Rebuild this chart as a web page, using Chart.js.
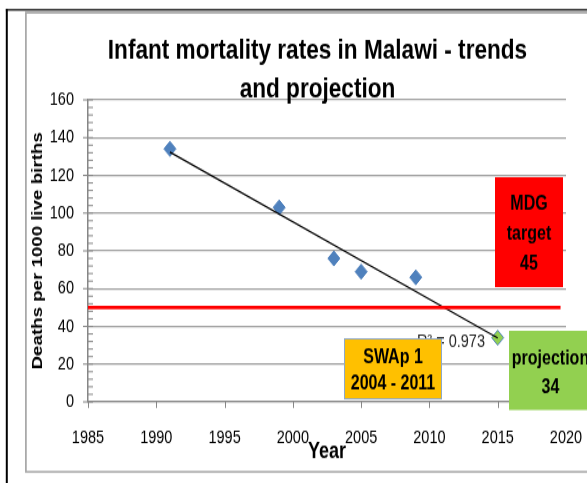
<!DOCTYPE html>
<html><head><meta charset="utf-8">
<script src="https://cdn.jsdelivr.net/npm/chart.js@4.4.0/dist/chart.umd.min.js"></script>
<style>
html,body{margin:0;padding:0;background:#fff;overflow:hidden;width:587px;height:483px}
#wrap{width:587px;height:387px;transform:scaleY(1.24806);transform-origin:0 0}
canvas{display:block}
</style>
</head><body>
<div id="wrap"><canvas id="c" width="587" height="387"></canvas></div>
<script>
// ---- data ----
const titleLines = ['Infant mortality rates in Malawi - trends', 'and projection'];
const xTitle = 'Year';
const yTitle = 'Deaths per 1000 live births';
const years = [1991, 1999, 2003, 2005, 2009, 2015];
const imr = [134, 103, 76, 69, 66, 34];
const pointKind = ['observed', 'observed', 'observed', 'observed', 'observed', 'projection'];
const xRange = [1985, 2020];
const xStep = 5;
const yRange = [0, 160];
const yStep = 20;
const yMinorStep = 4;
const refLineValue = 50;
const refLineSpan = [1985, 2019.6];
const r2Label = 'R\u00b2 = 0.973';
const mdgText = ['MDG', 'target', '45'];
const swapText = ['SWAp 1', '2004 - 2011'];
const projText = ['projection', '34'];

// ---- linear trend (least squares over all points) ----
const n = years.length;
const mx = years.reduce((a, b) => a + b, 0) / n;
const my = imr.reduce((a, b) => a + b, 0) / n;
let sxy = 0, sxx = 0;
for (let i = 0; i < n; i++) { sxy += (years[i] - mx) * (imr[i] - my); sxx += (years[i] - mx) ** 2; }
const slope = sxy / sxx, intercept = my - slope * mx;
const trendPts = [years[0], years[n - 1]].map(x => ({ x, y: intercept + slope * x }));

const FONT = '"Liberation Sans", Arial, sans-serif';

function drawBox(ctx, x0, y0, x1, y1, fill, stroke, lines, baselines) {
  ctx.save();
  ctx.fillStyle = fill;
  ctx.fillRect(x0, y0, x1 - x0, y1 - y0);
  if (stroke) { ctx.strokeStyle = stroke; ctx.lineWidth = 1; ctx.strokeRect(x0 + 0.5, y0 + 0.5, x1 - x0 - 1, y1 - y0 - 1); }
  ctx.fillStyle = '#000';
  ctx.font = 'bold 16px ' + FONT;
  ctx.textAlign = 'center';
  ctx.textBaseline = 'alphabetic';
  const cx = (x0 + x1) / 2;
  lines.forEach((t, i) => ctx.fillText(t, cx, baselines[i]));
  ctx.restore();
}

const decor = {
  id: 'decor',
  beforeDraw(chart) {
    const ctx = chart.ctx;
    ctx.save();
    ctx.fillStyle = '#fff';
    ctx.fillRect(0, 0, chart.width, chart.height);
    ctx.strokeStyle = '#a6a6a6';
    ctx.lineWidth = 1.7;
    ctx.beginPath();
    ctx.moveTo(620, 10.2); ctx.lineTo(25.9, 10.2); ctx.lineTo(25.9, 378); ctx.lineTo(620, 378);
    ctx.stroke();
    ctx.strokeStyle = '#000';
    ctx.lineWidth = 2;
    ctx.beginPath(); ctx.moveTo(6.8, 400); ctx.lineTo(6.8, 7.2); ctx.stroke();
    ctx.lineWidth = 1.4;
    ctx.beginPath(); ctx.moveTo(5.8, 7.9); ctx.lineTo(587, 7.9); ctx.stroke();
    ctx.restore();
  },
  afterDraw(chart) {
    const ctx = chart.ctx;
    const xs = chart.scales.x, ys = chart.scales.y;
    ctx.save();
    // tick marks
    ctx.strokeStyle = '#868686';
    ctx.lineWidth = 1;
    const ax = ys.right;
    for (let v = yRange[0]; v <= yRange[1]; v += yMinorStep) {
      const py = ys.getPixelForValue(v);
      ctx.beginPath();
      if (v % yStep === 0) { ctx.moveTo(ax - 5, py); ctx.lineTo(ax + 5, py); }
      else { ctx.moveTo(ax, py); ctx.lineTo(ax + 5, py); }
      ctx.stroke();
    }
    const ay = xs.top;
    for (let v = xRange[0]; v <= xRange[1]; v += xStep) {
      const px = Math.round(xs.getPixelForValue(v)) + 0.5;
      ctx.beginPath(); ctx.moveTo(px, ay); ctx.lineTo(px, ay + 4.8); ctx.stroke();
    }
    // title
    ctx.fillStyle = '#000';
    ctx.font = 'bold 22.6px ' + FONT;
    ctx.textAlign = 'center';
    ctx.textBaseline = 'alphabetic';
    ctx.fillText(titleLines[0], 317.5, 46.5);
    ctx.fillText(titleLines[1], 317.5, 78);
    // R² label
    ctx.font = '14.5px ' + FONT;
    ctx.fillStyle = '#262626';
    ctx.textAlign = 'right';
    ctx.fillText(r2Label, 485, 278);
    ctx.restore();
    // text boxes
    drawBox(ctx, 495, 142, 563, 230, '#FF0000', null, mdgText, [168.3, 191.5, 216.3]);
    drawBox(ctx, 344, 271, 442, 320, '#FFC000', '#8EA9C8', swapText, [291.1, 311.9]);
    drawBox(ctx, 509, 265, 592, 328.5, '#92D050', null, projText, [291.7, 314.9]);
  }
};

new Chart(document.getElementById('c'), {
  type: 'scatter',
  data: {
    datasets: [
      {
        label: 'Infant mortality rate',
        data: years.map((x, i) => ({ x, y: imr[i] })),
        pointStyle: 'rectRot',
        pointRadius: 6,
        pointHoverRadius: 6,
        backgroundColor: pointKind.map(k => k === 'projection' ? '#92D050' : '#4F81BD'),
        borderColor: '#4F81BD',
        borderWidth: 1,
        order: 3
      },
      {
        label: 'Linear trend',
        type: 'line',
        data: trendPts,
        borderColor: '#000',
        borderWidth: 1.3,
        pointRadius: 0,
        fill: false,
        order: 2
      },
      {
        label: 'Reference line',
        type: 'line',
        data: refLineSpan.map(x => ({ x, y: refLineValue })),
        borderColor: '#FF0000',
        borderWidth: 2.7,
        pointRadius: 0,
        fill: false,
        order: 1
      }
    ]
  },
  options: {
    responsive: false,
    animation: false,
    devicePixelRatio: 1,
    layout: { padding: { left: 0, right: 21, top: 80, bottom: 0 } },
    plugins: { legend: { display: false }, tooltip: { enabled: false }, title: { display: false } },
    scales: {
      x: {
        type: 'linear', min: xRange[0], max: xRange[1],
        ticks: { stepSize: xStep, color: '#000', font: { family: FONT, size: 14.5 }, padding: 20, callback: v => String(v), maxRotation: 0 },
        grid: { drawOnChartArea: false, drawTicks: false },
        border: { display: true, color: '#868686', width: 1.3 },
        title: { display: true, text: xTitle, color: '#000', font: { family: FONT, size: 18, weight: 'bold' }, padding: { top: 0, bottom: 14 } },
        afterFit(s) { s.height = 65; s.paddingLeft = 0; s.paddingRight = 0; }
      },
      y: {
        type: 'linear', min: yRange[0], max: yRange[1],
        ticks: { stepSize: yStep, color: '#000', font: { family: FONT, size: 14.5 }, padding: 14 },
        grid: { color: '#a0a0a0', lineWidth: 1.2, drawTicks: false },
        border: { display: true, color: '#868686', width: 1.5 },
        title: { display: true, text: yTitle, color: '#000', font: { family: FONT, size: 15, weight: 'bold' }, padding: { top: 29, bottom: 0 } },
        afterFit(s) { s.width = 88; }
      }
    }
  },
  plugins: [decor]
});
</script>
</body></html>
